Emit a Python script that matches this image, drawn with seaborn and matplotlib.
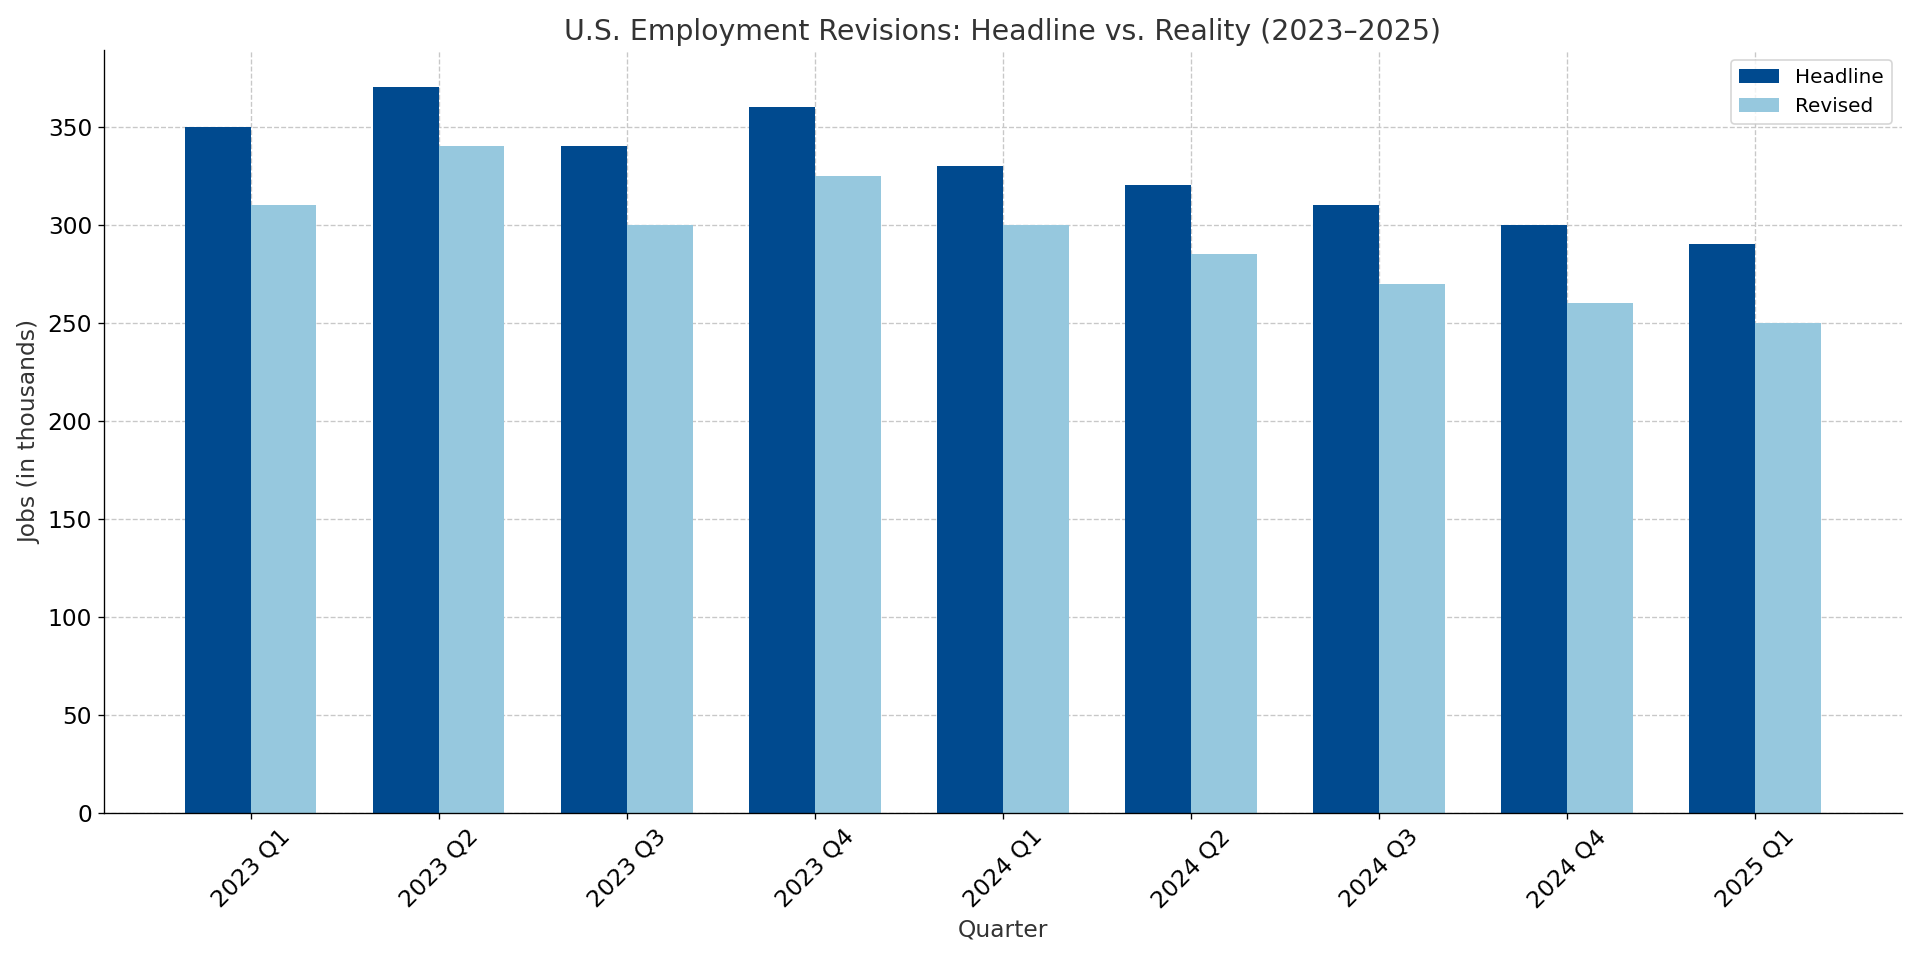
import matplotlib
matplotlib.use("Agg")
import matplotlib.pyplot as plt
import seaborn as sns
import pandas as pd

quarters = ["2023 Q1", "2023 Q2", "2023 Q3", "2023 Q4", "2024 Q1",
            "2024 Q2", "2024 Q3", "2024 Q4", "2025 Q1"]
headline = [350, 370, 340, 360, 330, 320, 310, 300, 290]
revised = [310, 340, 300, 325, 300, 285, 270, 260, 250]

df = pd.DataFrame({
    "Quarter": quarters * 2,
    "Jobs": headline + revised,
    "Series": ["Headline"] * len(quarters) + ["Revised"] * len(quarters),
})

fig, ax = plt.subplots(figsize=(16, 8), dpi=120)
sns.barplot(data=df, x="Quarter", y="Jobs", hue="Series",
            palette=["#004a8f", "#96c8de"], width=0.7, gap=0,
            saturation=1, ax=ax)

ax.set_title("U.S. Employment Revisions: Headline vs. Reality (2023\u20132025)",
             fontsize=17, color="#333333")
ax.set_xlabel("Quarter", fontsize=14, color="#333333")
ax.set_ylabel("Jobs (in thousands)", fontsize=14, color="#333333")
ax.tick_params(axis="both", labelsize=14)
plt.setp(ax.get_xticklabels(), rotation=45)
ax.set_xlim(-0.78, len(quarters) - 0.22)
ax.set_ylim(0, 389)
ax.grid(True, linestyle="--", color="#c8c8c8", linewidth=0.8)
ax.set_axisbelow(True)
ax.spines["top"].set_visible(False)
ax.spines["right"].set_visible(False)
ax.legend(title=None, fontsize=12, loc="upper right")

plt.tight_layout()
plt.savefig("out.png", dpi=120)
